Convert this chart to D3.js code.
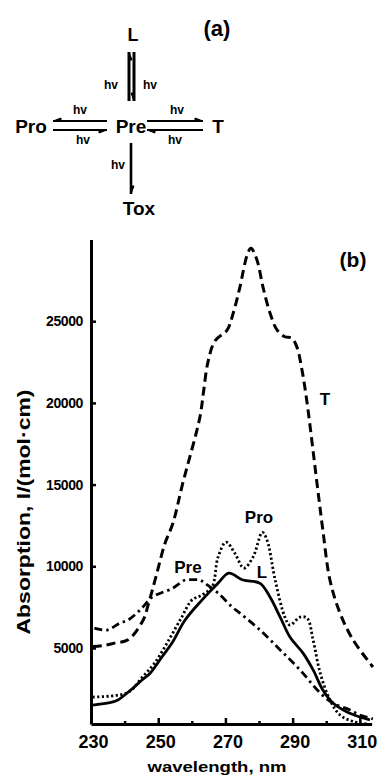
<!DOCTYPE html>
<html>
<head>
<meta charset="utf-8">
<script src="https://cdn.jsdelivr.net/npm/d3@7"></script>
<style>
  body { margin: 0; background: #fff; }
  svg text { font-family: "Liberation Sans", Arial, sans-serif; font-weight: bold; fill: #000; }
</style>
</head>
<body>
<div id="chart"></div>
<script>
// spectra (wavelength nm, absorption l/(mol*cm))
var tWl   = [230.5, 233.5, 237, 241, 245.5, 247, 249.6, 252, 254.4, 257.2, 262.4, 263.5, 264.8, 266.9, 270.5, 272.3, 274.3, 276.4, 277.6, 279.4, 281.2, 283.3, 285.4, 287.7, 289.8, 291.3, 292.8, 294.3, 297.3, 299, 301.1, 304.1, 308, 313.9];
var tAbs  = [5100, 5150, 5300, 5500, 6700, 7630, 9580, 11400, 12650, 15000, 19120, 20700, 22500, 23800, 24450, 25480, 27070, 29000, 29460, 28730, 27070, 25480, 24450, 24050, 23960, 23400, 22000, 20000, 15000, 12210, 9160, 7140, 5490, 3840];

var preWl  = [231, 234.8, 238.6, 241, 244.6, 248.2, 254.4, 258, 260, 262.4, 263.9, 267.8, 272, 274.3, 280.3, 286.3, 292.2, 298.2, 302, 307.1, 310, 313.9];
var preAbs = [6220, 6100, 6530, 6710, 7320, 8110, 8670, 9160, 9180, 9160, 8960, 8360, 7510, 7140, 6100, 4880, 3660, 2250, 1630, 1210, 900, 660];

var proWl  = [230.5, 241, 245, 249, 252.9, 257, 260, 263, 266, 267.8, 270.2, 272.8, 275.5, 278.2, 281, 282.4, 284.8, 287.7, 289.2, 292.2, 294.3, 296.1, 298.2, 301.1, 304.1, 308, 312];
var proAbs = [2000, 2280, 3150, 4100, 5400, 6890, 7930, 8240, 8730, 10560, 11480, 10800, 9890, 10560, 12080, 11600, 9160, 6890, 6400, 6890, 6830, 5490, 3470, 1820, 900, 500, 350];

var lWl  = [230.5, 236.5, 238, 242.5, 245.2, 247.6, 251.1, 254.1, 258, 263, 267.8, 271, 275.2, 280.3, 283.3, 286.3, 289.2, 293.1, 296.1, 299, 302, 306.2, 310, 313];
var lAbs = [1500, 1700, 1820, 2550, 3040, 3460, 4450, 5300, 6710, 7930, 8960, 9580, 9160, 8960, 8110, 6890, 5670, 4690, 3660, 2430, 1630, 1080, 780, 600];

var xTicks = [230, 240, 250, 260, 270, 280, 290, 300, 310];
var xLabels = [230, 250, 270, 290, 310];
var yTicks = [5000, 10000, 15000, 20000, 25000];

var svg = d3.select("#chart").append("svg")
  .attr("width", 381)
  .attr("height", 776);

// ---------- (a) scheme ----------
var scheme = svg.append("g");

function harpoon(x1, y1, x2, y2, side, w) {
  // line from (x1,y1) to (x2,y2), half arrow head at the second point
  var dx = x2 - x1, dy = y2 - y1, len = Math.sqrt(dx*dx + dy*dy);
  var ux = dx/len, uy = dy/len;
  var px = -uy * side, py = ux * side;
  scheme.append("line")
    .attr("x1", x1).attr("y1", y1).attr("x2", x2).attr("y2", y2)
    .attr("stroke", "#000").attr("stroke-width", w || 2.2);
  scheme.append("path")
    .attr("d", "M" + x2 + "," + y2 +
      "L" + (x2 - ux*8 + px*3) + "," + (y2 - uy*8 + py*3) +
      "L" + (x2 - ux*8) + "," + (y2 - uy*8) + "Z")
    .attr("fill", "#000").attr("stroke", "#000").attr("stroke-width", 1);
}

function label(txt, x, y, size) {
  scheme.append("text")
    .attr("x", x).attr("y", y)
    .attr("text-anchor", "middle")
    .attr("dominant-baseline", "central")
    .style("font-size", size + "px")
    .text(txt);
}

label("(a)", 217, 28, 22);
label("L", 133, 35, 18);
label("Pro", 31, 126, 19);
label("Pre", 131, 126, 19);
label("T", 218, 126, 19);
label("Tox", 139, 208, 19);

// vertical pair Pre <-> L
harpoon(129, 101, 129, 52, 1, 3);
harpoon(134, 52, 134, 101, 1, 3);
label("hv", 111, 85, 12);
label("hv", 150, 85, 12);

// Pro <-> Pre
harpoon(107, 121, 53, 121, 1);
harpoon(53, 130, 107, 130, 1);
label("hv", 80, 110, 12);
label("hv", 83, 140, 12);

// Pre <-> T
harpoon(147, 121, 203, 121, -1);
harpoon(203, 130, 147, 130, -1);
label("hv", 177, 110, 12);
label("hv", 175, 140, 12);

// Pre -> Tox
harpoon(131, 143, 131, 194, -1, 2.6);
label("hv", 118, 165, 12);

// ---------- (b) spectra ----------
var x = d3.scaleLinear().domain([230, 313.5]).range([91, 371.6]);
var y = d3.scaleLinear().domain([350, 30000]).range([724, 239.5]);

var xAxis = svg.append("g")
  .attr("transform", "translate(0,724)")
  .call(d3.axisBottom(x)
    .tickValues(xTicks)
    .tickSizeInner(-6)
    .tickSizeOuter(0)
    .tickPadding(11)
    .tickFormat(function(d) { return xLabels.indexOf(d) >= 0 ? d : ""; }));

xAxis.select(".domain").attr("stroke-width", 3);
xAxis.selectAll(".tick line").attr("stroke-width", 2.5)
  .attr("y2", function(d) { return (d - 230) % 20 == 0 ? -6 : -3; });
xAxis.selectAll(".tick text")
  .attr("dx", 2)
  .style("font-size", "18px")
  .style("font-family", "'Liberation Sans', Arial, sans-serif")
  .style("font-weight", "bold");

var yAxis = svg.append("g")
  .attr("transform", "translate(91,0)")
  .call(d3.axisLeft(y)
    .tickValues(yTicks)
    .tickSizeInner(-5)
    .tickSizeOuter(0)
    .tickPadding(8)
    .tickFormat(d3.format("d")));

yAxis.select(".domain").attr("stroke-width", 3);
yAxis.selectAll(".tick line").attr("stroke-width", 2.5);
yAxis.selectAll(".tick text")
  .style("font-size", "14px")
  .style("letter-spacing", "-0.4px")
  .style("font-family", "'Liberation Sans', Arial, sans-serif")
  .style("font-weight", "bold");

svg.append("text")
  .attr("transform", "translate(30,512) rotate(-90)")
  .attr("text-anchor", "middle")
  .attr("textLength", 245)
  .attr("lengthAdjust", "spacingAndGlyphs")
  .style("font-size", "19px")
  .text("Absorption,  l/(mol\u00b7cm)");

svg.append("text")
  .attr("x", 217).attr("y", 772)
  .attr("text-anchor", "middle")
  .attr("textLength", 139)
  .attr("lengthAdjust", "spacingAndGlyphs")
  .style("font-size", "15px")
  .text("wavelength,  nm");

svg.append("text")
  .attr("x", 353).attr("y", 267)
  .attr("text-anchor", "middle")
  .style("font-size", "21px")
  .text("(b)");

var line = d3.line()
  .x(function(d) { return x(d[0]); })
  .y(function(d) { return y(d[1]); })
  .curve(d3.curveCatmullRom.alpha(0.5));

var series = [
  {wl: tWl, abs: tAbs, dash: "9,5", w: 3},
  {wl: preWl, abs: preAbs, dash: "8,4,2.5,4", w: 2.8},
  {wl: proWl, abs: proAbs, dash: "2.2,2.4", w: 2.8},
  {wl: lWl, abs: lAbs, dash: null, w: 2.8}
];

series.forEach(function(s) {
  var pts = s.wl.map(function(w, i) { return [w, s.abs[i]]; });
  svg.append("path")
    .attr("d", line(pts))
    .attr("fill", "none")
    .attr("stroke", "#000")
    .attr("stroke-width", s.w)
    .attr("stroke-dasharray", s.dash);
});

var curveLabels = [
  {t: "T", x: 325, y: 399},
  {t: "Pre", x: 188, y: 567},
  {t: "Pro", x: 259, y: 517},
  {t: "L", x: 262, y: 572}
];
curveLabels.forEach(function(c) {
  svg.append("text")
    .attr("x", c.x).attr("y", c.y)
    .attr("text-anchor", "middle")
    .attr("dominant-baseline", "central")
    .style("font-size", "17px")
    .text(c.t);
});
</script>
</body>
</html>
